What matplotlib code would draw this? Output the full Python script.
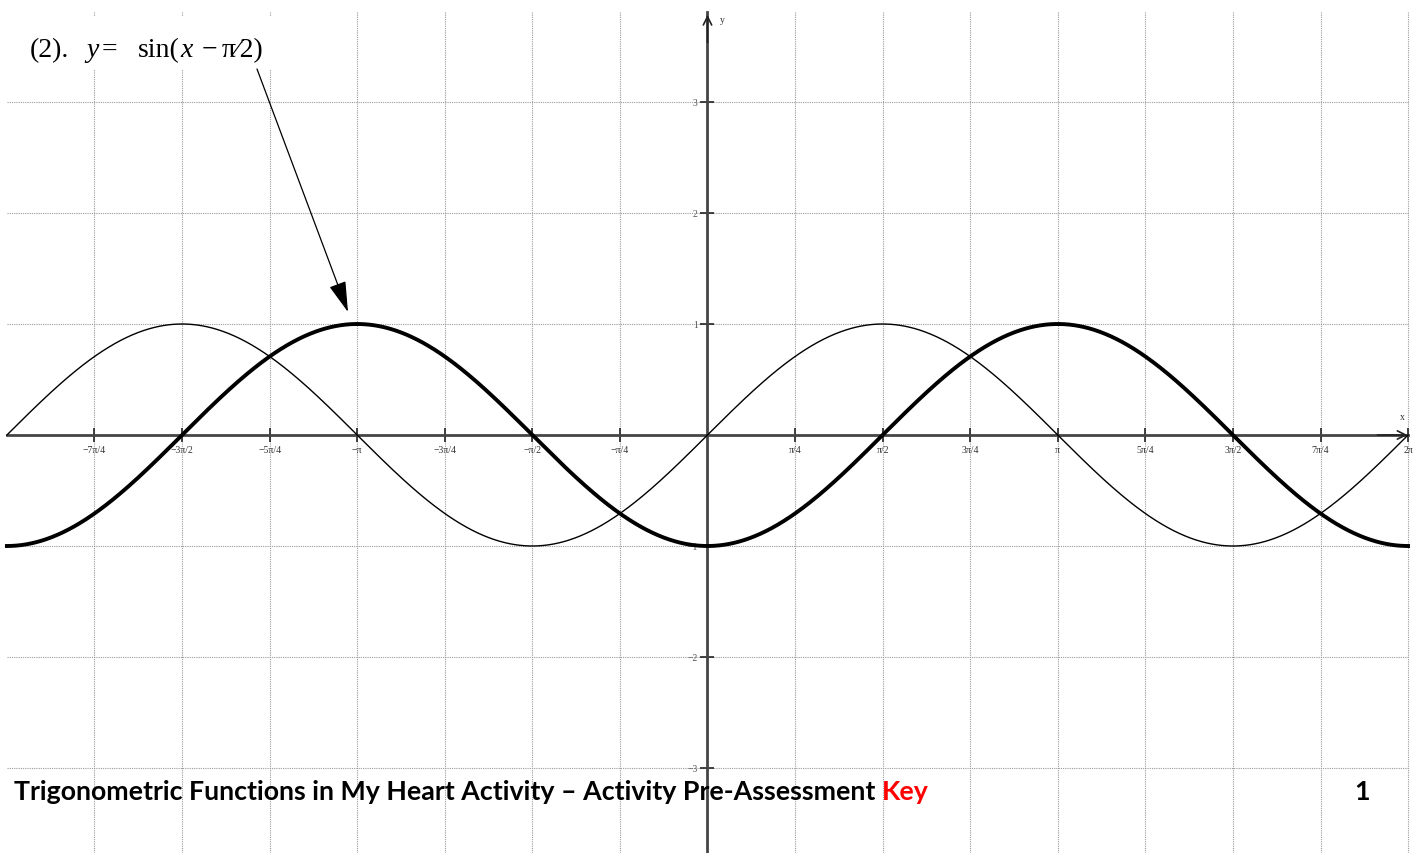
import numpy as np
import matplotlib
matplotlib.use("Agg")
import matplotlib.pyplot as plt
from matplotlib.patches import Rectangle

# ---- data ----
x_tick_quarters = [-7, -6, -5, -4, -3, -2, -1, 1, 2, 3, 4, 5, 6, 7, 8]
x_tick_labels = ["−7π/4", "−3π/2", "−5π/4", "−π", "−3π/4", "−π/2", "−π/4",
                 "π/4", "π/2", "3π/4", "π", "5π/4", "3π/2", "7π/4", "2π"]
grid_quarters = [-7, -6, -5, -4, -3, -2, -1, 0, 1, 2, 3, 4, 5, 6, 7, 8]
y_ticks = [-3, -2, -1, 1, 2, 3]
y_tick_labels = ["−3", "−2", "−1", "1", "2", "3"]
y_grid = [-3, -2, -1, 0, 1, 2, 3]
domain = (-2 * np.pi, 2 * np.pi)
phase_shift = np.pi / 2          # y = sin(x - pi/2)
annotation_pieces = ["(2).", "y", "=", "sin(", "x", "−", "π⁄2)"]
annotation_italic = [False, True, False, False, True, False, False]
footer_main = "Trigonometric Functions in My Heart Activity – Activity Pre-Assessment "
footer_key = "Key"
page_number = "1"

W, H, DPI = 1424, 854, 100
fig = plt.figure(figsize=(W / DPI, H / DPI), dpi=DPI)
ax = fig.add_axes([0, 0, 1, 1])

# pixel mapping: x=0 at px 707.5, 111.5 px per unit; y=0 at px 436 from top, 111 px per unit
x0, sx = 707.5, 111.5
y0, sy = 436.0, 111.0
ax.set_xlim(-x0 / sx, (W - x0) / sx)
ax.set_ylim(-(H - y0) / sy, y0 / sy)
ymin, ymax = ax.get_ylim()
grid_top = (y0 - 13) / sy

# grid
gstyle = dict(color="#9a9a9a", lw=0.8, ls=(0, (1, 1)), zorder=0)
for q in grid_quarters:
    if q == 0:
        continue
    ax.plot([q * np.pi / 4] * 2, [ymin, grid_top], **gstyle)
for yv in y_grid:
    if yv == 0:
        continue
    ax.plot([domain[0], domain[1]], [yv, yv], **gstyle)

# axes spines at zero
for s in ["top", "right"]:
    ax.spines[s].set_visible(False)
ax.spines["left"].set_position(("data", 0))
ax.spines["bottom"].set_position(("data", 0))
ax.spines["left"].set_bounds(ymin, grid_top)
ax.spines["bottom"].set_bounds(domain[0], domain[1])
for s in ["left", "bottom"]:
    ax.spines[s].set_color("#454545")
    ax.spines[s].set_linewidth(2.0)
    ax.spines[s].set_zorder(2)

ax.set_xticks([q * np.pi / 4 for q in x_tick_quarters])
ax.set_xticklabels(x_tick_labels, fontfamily="Liberation Serif", fontsize=7, color="#333333")
ax.set_yticks(y_ticks)
ax.set_yticklabels(y_tick_labels, fontfamily="Liberation Serif", fontsize=7, color="#555555")
ax.tick_params(axis="both", direction="inout", length=10, width=1.2, color="#222222", pad=2)

# axis arrowheads
ax.annotate("", xy=(0, grid_top), xytext=(0, grid_top - 0.3),
            arrowprops=dict(arrowstyle="->,head_length=0.6,head_width=0.3", color="#222222", lw=1.2))
ax.annotate("", xy=(domain[1] + 0.02, 0), xytext=(domain[1] - 0.3, 0),
            arrowprops=dict(arrowstyle="->,head_length=0.6,head_width=0.3", color="#222222", lw=1.2))
ax.text(0.11, grid_top - 0.07, "y", fontfamily="Liberation Serif", fontsize=7, color="#333333",
        ha="left", va="center")
ax.text(domain[1] - 0.05, 0.13, "x", fontfamily="Liberation Serif", fontsize=7, color="#333333",
        ha="center", va="bottom")

# curves
xs = np.linspace(domain[0], domain[1], 2000)
ax.plot(xs, np.sin(xs), color="black", lw=1.0, zorder=3)
ax.plot(xs, np.sin(xs - phase_shift), color="black", lw=2.8, zorder=3)

# annotation (white box behind the label, then the label pieces)
ax.add_patch(Rectangle((20 / W, 1 - 70 / H), 272 / W, 53 / H, transform=ax.transAxes,
                       facecolor="white", edgecolor="none", zorder=4))
piece_left_px = [30, 86, 102, 138, 180, 202, 222]
baseline_px = 57
for txt, ital, px in zip(annotation_pieces, annotation_italic, piece_left_px):
    ax.text(px / W, 1 - baseline_px / H, txt, transform=ax.transAxes,
            fontfamily="Liberation Serif", fontstyle="italic" if ital else "normal",
            fontsize=20, ha="left", va="baseline", zorder=5)
ax.annotate("", xy=((348 - x0) / sx, (y0 - 313) / sy), xytext=((257 - x0) / sx, (y0 - 70) / sy),
            arrowprops=dict(arrowstyle="-|>,head_length=1.6,head_width=0.45", color="black",
                            lw=0.9, mutation_scale=12, shrinkA=0, shrinkB=0), zorder=5)

# footer
fsz = 19.3
t = fig.text(14 / W, 1 - 792 / H, footer_main, fontfamily="Lato", fontweight="bold",
             fontsize=fsz, ha="left", va="center", color="black")
fig.canvas.draw()
bb = t.get_window_extent()
fig.text(bb.x1 / W, 1 - 792 / H, footer_key, fontfamily="Lato", fontweight="bold",
         fontsize=fsz, ha="left", va="center", color="#ff0000")
fig.text(1362 / W, 1 - 792 / H, page_number, fontfamily="Lato", fontweight="bold",
         fontsize=fsz, ha="center", va="center", color="black")

fig.savefig("out.png", dpi=DPI)
